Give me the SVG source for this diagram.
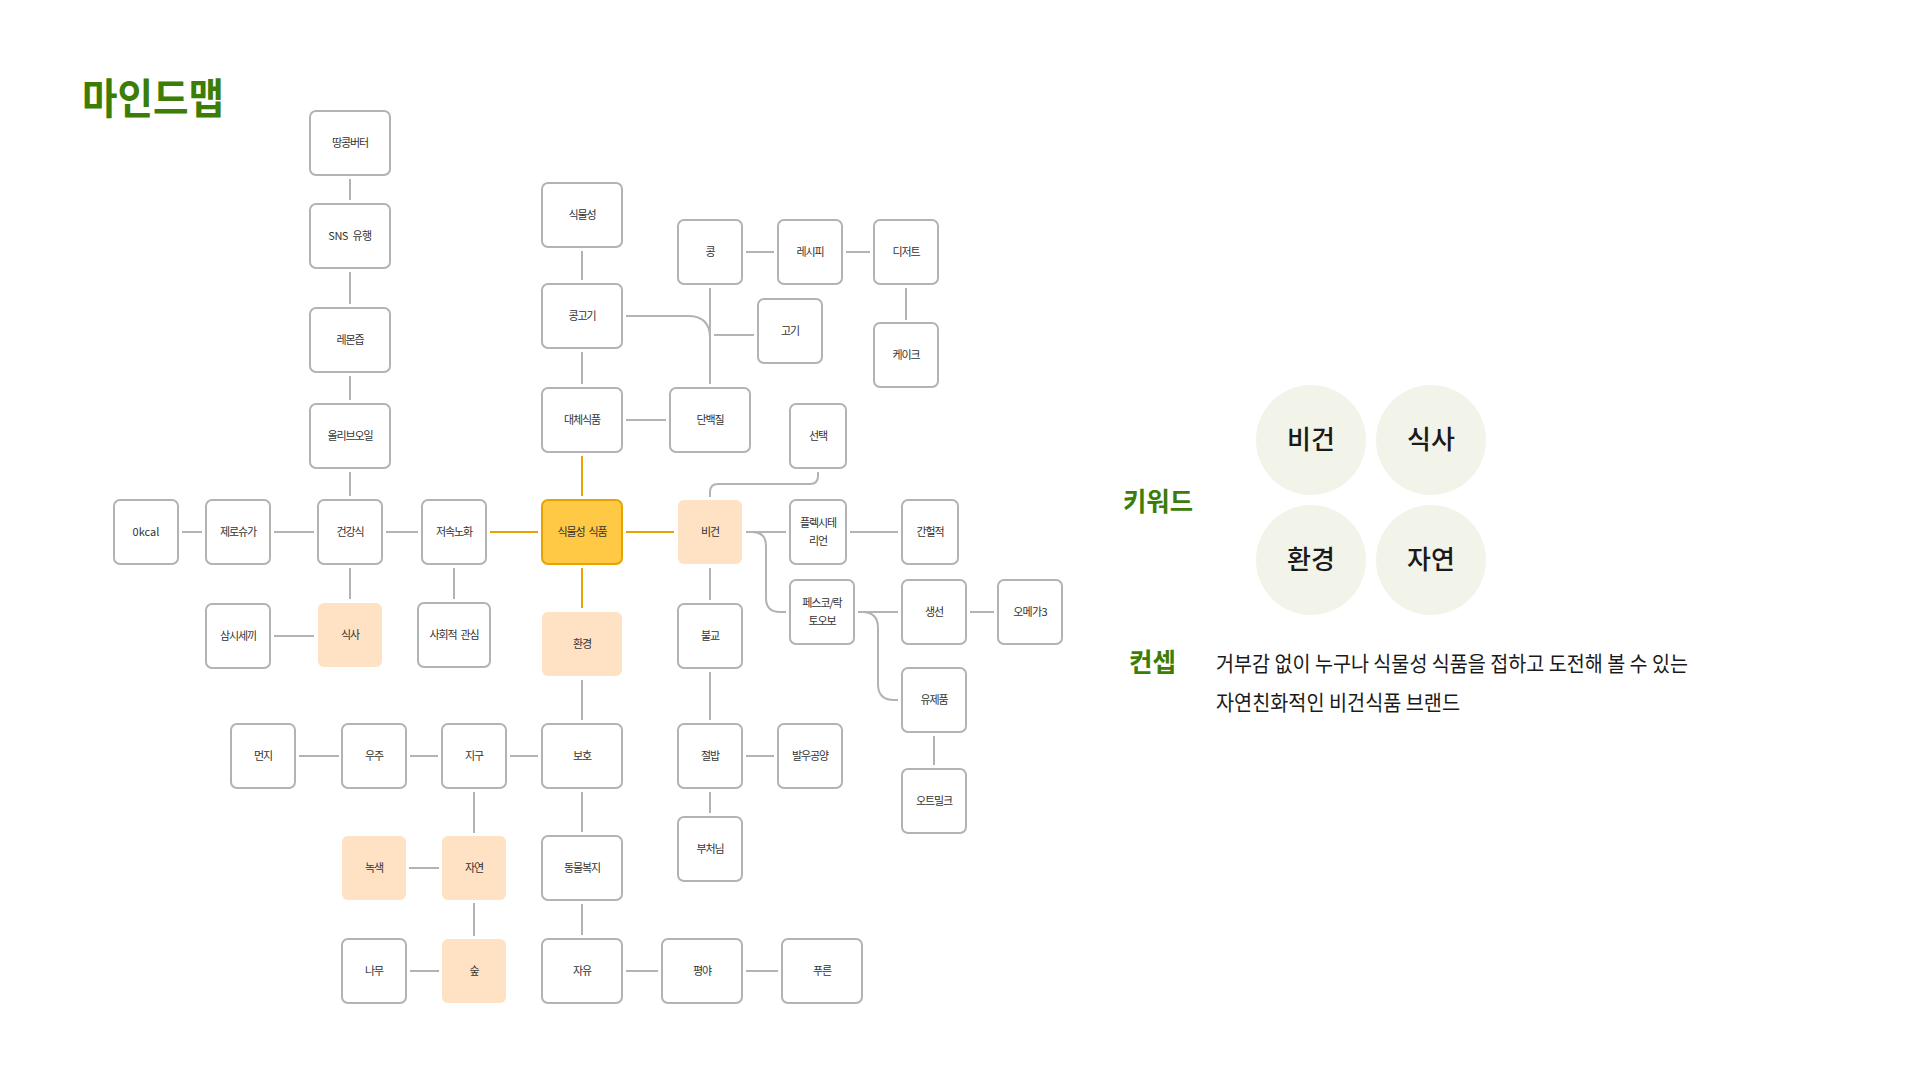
<svg xmlns="http://www.w3.org/2000/svg" width="1920" height="1080" viewBox="0 0 1920 1080">
<style>
.n rect{fill:#fff;stroke:#b3b3b3;stroke-width:2}
.p rect{fill:#ffe1c3;stroke:none}
.o rect{fill:#ffc845;stroke:#e9a300;stroke-width:2}
text{font-family:"Noto Sans CJK KR","Noto Sans",sans-serif}
.n text,.p text,.o text{font-size:11px;fill:#333;text-anchor:middle;letter-spacing:-1.1px;word-spacing:2.5px}
.n text.l{letter-spacing:0}
.c path{fill:none;stroke:#b3b3b3;stroke-width:2}
.c path.y{stroke:#e9a300}
.h{fill:#3b7d05;font-weight:700}
.k circle{fill:#f2f4e9}
.k text{font-size:26px;font-weight:500;fill:#1a1a1a;text-anchor:middle}
.t{font-size:21px;fill:#1a1a1a}
</style>
<rect width="1920" height="1080" fill="#fff"/>
<text class="h" x="82" y="114" font-size="42" textLength="142" lengthAdjust="spacingAndGlyphs">마인드맵</text>

<g class="c">
<path d="M350,179V200M350,272V304M350,376V400M350,472V496"/>
<path d="M182,532H202M274,532H314M386,532H418"/>
<path d="M350,568V599M454,568V599M274,636H314"/>
<path d="M582,251V280M582,352V384M626,420H666M710,288V384M626,316H688Q710,316 710,338M714,335H754"/>
<path d="M746,252H774M846,252H870M906,288V320"/>
<path d="M818,472V476Q818,484 810,484H718Q710,484 710,492V497"/>
<path d="M746,532H786M746,532H752Q766,532 766,546V598Q766,612 780,612H786"/>
<path d="M710,568V600M850,532H898M858,612H898M970,612H994"/>
<path d="M858,612H862Q878,612 878,628V684Q878,700 894,700H898M934,736V765"/>
<path d="M710,672V720M746,756H774M710,792V813"/>
<path d="M582,680V720M299,756H339M410,756H438M510,756H538M474,792V833M582,792V832"/>
<path d="M409,868H439M474,903V936M582,904V935M410,971H439M626,971H658M746,971H778"/>
<path class="y" d="M490,532H538M582,456V496M626,532H674M582,568V608"/>
</g>

<g id="n-ttangkong" class="n"><rect x="310" y="111" width="80" height="64" rx="6"/><text x="350" y="147">땅콩버터</text></g>
<g id="n-sns" class="n"><rect x="310" y="204" width="80" height="64" rx="6"/><text x="350" y="240" style="letter-spacing:-0.5px">SNS 유행</text></g>
<g id="n-lemon" class="n"><rect x="310" y="308" width="80" height="64" rx="6"/><text x="350" y="344">레몬즙</text></g>
<g id="n-olive" class="n"><rect x="310" y="404" width="80" height="64" rx="6"/><text x="350" y="440">올리브오일</text></g>
<g id="n-0kcal" class="n"><rect x="114" y="500" width="64" height="64" rx="6"/><text class="l" x="146" y="536" font-size="12">0kcal</text></g>
<g id="n-zerosugar" class="n"><rect x="206" y="500" width="64" height="64" rx="6"/><text x="238" y="536">제로슈가</text></g>
<g id="n-health" class="n"><rect x="318" y="500" width="64" height="64" rx="6"/><text x="350" y="536">건강식</text></g>
<g id="n-slowaging" class="n"><rect x="422" y="500" width="64" height="64" rx="6"/><text x="454" y="536">저속노화</text></g>
<g id="n-plantfood" class="o"><rect x="542" y="500" width="80" height="64" rx="6"/><text x="582" y="536">식물성 식품</text></g>
<g id="n-vegan" class="p"><rect x="678" y="500" width="64" height="64" rx="6"/><text x="710" y="536">비건</text></g>
<g id="n-flexi" class="n"><rect x="790" y="500" width="56" height="64" rx="6"/><text x="818" y="527">플렉시테</text><text x="818" y="545">리언</text></g>
<g id="n-fasting" class="n"><rect x="902" y="500" width="56" height="64" rx="6"/><text x="930" y="536">간헐적</text></g>
<g id="n-samsi" class="n"><rect x="206" y="604" width="64" height="64" rx="6"/><text x="238" y="640">삼시세끼</text></g>
<g id="n-meal" class="p"><rect x="318" y="603" width="64" height="64" rx="6"/><text x="350" y="639">식사</text></g>
<g id="n-social" class="n"><rect x="418" y="603" width="72" height="64" rx="6"/><text x="454" y="639">사회적 관심</text></g>
<g id="n-env" class="p"><rect x="542" y="612" width="80" height="64" rx="6"/><text x="582" y="648">환경</text></g>
<g id="n-buddhism" class="n"><rect x="678" y="604" width="64" height="64" rx="6"/><text x="710" y="640">불교</text></g>
<g id="n-pesco" class="n"><rect x="790" y="580" width="64" height="64" rx="6"/><text x="822" y="607">페스코/락</text><text x="822" y="625">토오보</text></g>
<g id="n-fish" class="n"><rect x="902" y="580" width="64" height="64" rx="6"/><text x="934" y="616">생선</text></g>
<g id="n-omega" class="n"><rect x="998" y="580" width="64" height="64" rx="6"/><text x="1030" y="616" style="letter-spacing:-0.7px">오메가3</text></g>
<g id="n-dairy" class="n"><rect x="902" y="668" width="64" height="64" rx="6"/><text x="934" y="704">유제품</text></g>
<g id="n-oatmilk" class="n"><rect x="902" y="769" width="64" height="64" rx="6"/><text x="934" y="805">오트밀크</text></g>
<g id="n-plant" class="n"><rect x="542" y="183" width="80" height="64" rx="6"/><text x="582" y="219">식물성</text></g>
<g id="n-soymeat" class="n"><rect x="542" y="284" width="80" height="64" rx="6"/><text x="582" y="320">콩고기</text></g>
<g id="n-alt" class="n"><rect x="542" y="388" width="80" height="64" rx="6"/><text x="582" y="424">대체식품</text></g>
<g id="n-protein" class="n"><rect x="670" y="388" width="80" height="64" rx="6"/><text x="710" y="424">단백질</text></g>
<g id="n-bean" class="n"><rect x="678" y="220" width="64" height="64" rx="6"/><text x="710" y="256">콩</text></g>
<g id="n-recipe" class="n"><rect x="778" y="220" width="64" height="64" rx="6"/><text x="810" y="256">레시피</text></g>
<g id="n-dessert" class="n"><rect x="874" y="220" width="64" height="64" rx="6"/><text x="906" y="256">디저트</text></g>
<g id="n-meat" class="n"><rect x="758" y="299" width="64" height="64" rx="6"/><text x="790" y="335">고기</text></g>
<g id="n-cake" class="n"><rect x="874" y="323" width="64" height="64" rx="6"/><text x="906" y="359">케이크</text></g>
<g id="n-choice" class="n"><rect x="790" y="404" width="56" height="64" rx="6"/><text x="818" y="440">선택</text></g>
<g id="n-dust" class="n"><rect x="231" y="724" width="64" height="64" rx="6"/><text x="263" y="760">먼지</text></g>
<g id="n-space" class="n"><rect x="342" y="724" width="64" height="64" rx="6"/><text x="374" y="760">우주</text></g>
<g id="n-earth" class="n"><rect x="442" y="724" width="64" height="64" rx="6"/><text x="474" y="760">지구</text></g>
<g id="n-protect" class="n"><rect x="542" y="724" width="80" height="64" rx="6"/><text x="582" y="760">보호</text></g>
<g id="n-temple" class="n"><rect x="678" y="724" width="64" height="64" rx="6"/><text x="710" y="760">절밥</text></g>
<g id="n-baru" class="n"><rect x="778" y="724" width="64" height="64" rx="6"/><text x="810" y="760">발우공양</text></g>
<g id="n-green" class="p"><rect x="342" y="836" width="64" height="64" rx="6"/><text x="374" y="872">녹색</text></g>
<g id="n-nature" class="p"><rect x="442" y="836" width="64" height="64" rx="6"/><text x="474" y="872">자연</text></g>
<g id="n-welfare" class="n"><rect x="542" y="836" width="80" height="64" rx="6"/><text x="582" y="872">동물복지</text></g>
<g id="n-buddha" class="n"><rect x="678" y="817" width="64" height="64" rx="6"/><text x="710" y="853">부처님</text></g>
<g id="n-tree" class="n"><rect x="342" y="939" width="64" height="64" rx="6"/><text x="374" y="975">나무</text></g>
<g id="n-forest" class="p"><rect x="442" y="939" width="64" height="64" rx="6"/><text x="474" y="975">숲</text></g>
<g id="n-freedom" class="n"><rect x="542" y="939" width="80" height="64" rx="6"/><text x="582" y="975">자유</text></g>
<g id="n-plain" class="n"><rect x="662" y="939" width="80" height="64" rx="6"/><text x="702" y="975">평야</text></g>
<g id="n-blue" class="n"><rect x="782" y="939" width="80" height="64" rx="6"/><text x="822" y="975">푸른</text></g>

<text class="h" x="1123" y="511" font-size="26" textLength="70" lengthAdjust="spacingAndGlyphs">키워드</text>
<g id="keywords" class="k">
<circle cx="1311" cy="440" r="55"/><text x="1311" y="449">비건</text>
<circle cx="1431" cy="440" r="55"/><text x="1431" y="449">식사</text>
<circle cx="1311" cy="560" r="55"/><text x="1311" y="569">환경</text>
<circle cx="1431" cy="560" r="55"/><text x="1431" y="569">자연</text>
</g>
<text class="h" x="1129" y="672" font-size="26" textLength="47" lengthAdjust="spacingAndGlyphs">컨셉</text>
<text class="t" x="1216" y="671" textLength="472" lengthAdjust="spacingAndGlyphs">거부감 없이 누구나 식물성 식품을 접하고 도전해 볼 수 있는</text>
<text class="t" x="1216" y="710" textLength="244" lengthAdjust="spacingAndGlyphs">자연친화적인 비건식품 브랜드</text>
</svg>
